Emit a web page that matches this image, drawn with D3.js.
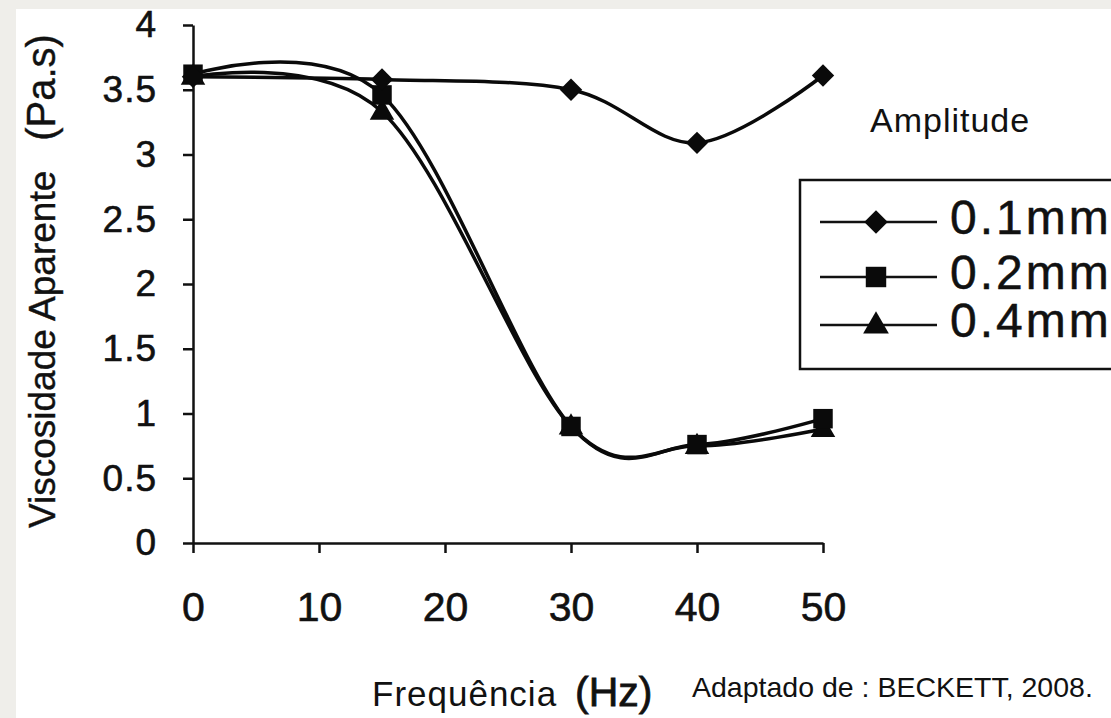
<!DOCTYPE html>
<html>
<head>
<meta charset="utf-8">
<script src="https://cdn.jsdelivr.net/npm/d3@7"></script>
<style>
  body { margin: 0; background: #efeeea; }
  svg { display: block; font-family: "Liberation Sans", Arial, sans-serif; }
</style>
</head>
<body>
<div id="chart"></div>
<script>
// data
const freq = [0, 15, 30, 40, 50];
const amp01 = [3.6, 3.58, 3.5, 3.09, 3.61];
const amp02 = [3.62, 3.46, 0.9, 0.76, 0.96];
const amp04 = [3.6, 3.33, 0.9, 0.75, 0.88];
const seriesNames = ["0.1mm", "0.2mm", "0.4mm"];
const seriesMarkers = ["diamond", "square", "triangle"];
const xTicks = [0, 10, 20, 30, 40, 50];
const yTicks = [0, 0.5, 1, 1.5, 2, 2.5, 3, 3.5, 4];

const W = 1111, H = 718;

const svg = d3
  .select("#chart")
  .append("svg")
  .attr("width", W)
  .attr("height", H);

// white page area over the grey frame
svg.append("rect")
  .attr("x", 16).attr("y", 9)
  .attr("width", W - 16).attr("height", H - 9)
  .attr("fill", "#ffffff");

// scales
const x = d3.scaleLinear().domain([0, 50]).range([193, 823]);
const y = d3.scaleLinear().domain([0, 4]).range([543, 25]);

// Y axis
const yAxis = svg.append("g")
  .attr("transform", `translate(${x(0)},0)`)
  .call(d3.axisLeft(y).tickValues(yTicks).tickFormat((d) => d).tickSize(10).tickSizeOuter(0).tickPadding(26));

// X axis
const xAxis = svg.append("g")
  .attr("transform", `translate(0,${y(0)})`)
  .call(d3.axisBottom(x).tickValues(xTicks).tickSize(10).tickSizeOuter(0).tickPadding(39));

// scanned look: slightly heavier text
[xAxis, yAxis].forEach((a) => {
  a.select(".domain").attr("stroke", "#111").attr("stroke-width", 2.5);
  a.selectAll(".tick line").attr("stroke", "#111").attr("stroke-width", 2.5);
  a.selectAll(".tick text")
    .attr("fill", "#111")
    .attr("stroke", "#111").attr("stroke-width", 0.6)
    .attr("font-family", '"Liberation Sans", Arial, sans-serif');
});
yAxis.selectAll(".tick text").attr("font-size", 37).attr("letter-spacing", 1);
xAxis.selectAll(".tick text").attr("font-size", 41);

// axis titles
const yTitle = svg.append("text")
  .attr("transform", "translate(55,528) rotate(-90)")
  .attr("fill", "#111")
  .attr("stroke", "#111").attr("stroke-width", 0.4);
yTitle.append("tspan").attr("font-size", 37).text("Viscosidade Aparente");
yTitle.append("tspan").attr("font-size", 40).attr("dx", 30).text("(Pa.s)");

const xTitle = svg.append("g").attr("fill", "#111");
xTitle.append("text")
  .attr("x", 372).attr("y", 706)
  .attr("font-size", 35).attr("letter-spacing", 1)
  .text("Frequência");
xTitle.append("text")
  .attr("x", 575).attr("y", 706)
  .attr("font-size", 41)
  .attr("stroke", "#111").attr("stroke-width", 0.8)
  .text("(Hz)");

svg.append("text")
  .attr("x", 692).attr("y", 697)
  .attr("font-size", 28.5)
  .attr("fill", "#111")
  .text("Adaptado de : BECKETT, 2008.");

// marker shapes
function markerPath(kind, scale) {
  if (kind === "diamond") return d3.symbol(d3.symbolSquare, 250 * scale)();
  if (kind === "square") return d3.symbol(d3.symbolSquare, 380 * scale)();
  return d3.symbol(d3.symbolTriangle, 260 * scale)();
}
function markerTransform(kind, cx, cy) {
  if (kind === "diamond") return `translate(${cx},${cy}) rotate(45)`;
  if (kind === "triangle") return `translate(${cx},${cy + 1})`;
  return `translate(${cx},${cy})`;
}

// series
const series = [amp01, amp02, amp04].map((vals, i) => ({
  name: seriesNames[i],
  marker: seriesMarkers[i],
  points: freq.map((f, j) => ({ f: f, v: vals[j] })),
}));

// Excel-style smoothing (uniform Catmull-Rom)
const line = d3.line()
  .x((d) => x(d.f))
  .y((d) => y(d.v))
  .curve(d3.curveCardinal.tension(0));

const plot = svg.append("g");
// draw in reverse so 0.1mm sits on top
series.slice().reverse().forEach((s) => {
  plot.append("path")
    .datum(s.points)
    .attr("d", line)
    .attr("fill", "none")
    .attr("stroke", "#0a0a0a")
    .attr("stroke-width", 3.5);
  plot.selectAll(null)
    .data(s.points)
    .join("path")
    .attr("d", markerPath(s.marker, 1))
    .attr("transform", (d) => markerTransform(s.marker, x(d.f), y(d.v)))
    .attr("fill", "#0a0a0a");
});

// legend
svg.append("text")
  .attr("x", 870).attr("y", 132)
  .attr("font-size", 34).attr("letter-spacing", 1)
  .attr("fill", "#111")
  .text("Amplitude");

svg.append("rect")
  .attr("x", 800).attr("y", 180)
  .attr("width", 340).attr("height", 189)
  .attr("fill", "none")
  .attr("stroke", "#111")
  .attr("stroke-width", 2.5);

const legendY = [222, 277, 325];
const legend = svg.append("g")
  .selectAll("g")
  .data(series)
  .join("g")
  .attr("transform", (d, i) => `translate(0,${legendY[i]})`);

legend.append("line")
  .attr("x1", 820).attr("x2", 937)
  .attr("stroke", "#111").attr("stroke-width", 2.5);
legend.append("path")
  .attr("d", (d) => markerPath(d.marker, 1.1))
  .attr("transform", (d) => markerTransform(d.marker, 876, 0))
  .attr("fill", "#0a0a0a");
legend.append("text")
  .attr("x", 950).attr("y", 11.5)
  .attr("font-size", 48).attr("letter-spacing", 3)
  .attr("fill", "#111")
  .attr("stroke", "#111").attr("stroke-width", 0.5)
  .text((d) => d.name);
</script>
</body>
</html>
